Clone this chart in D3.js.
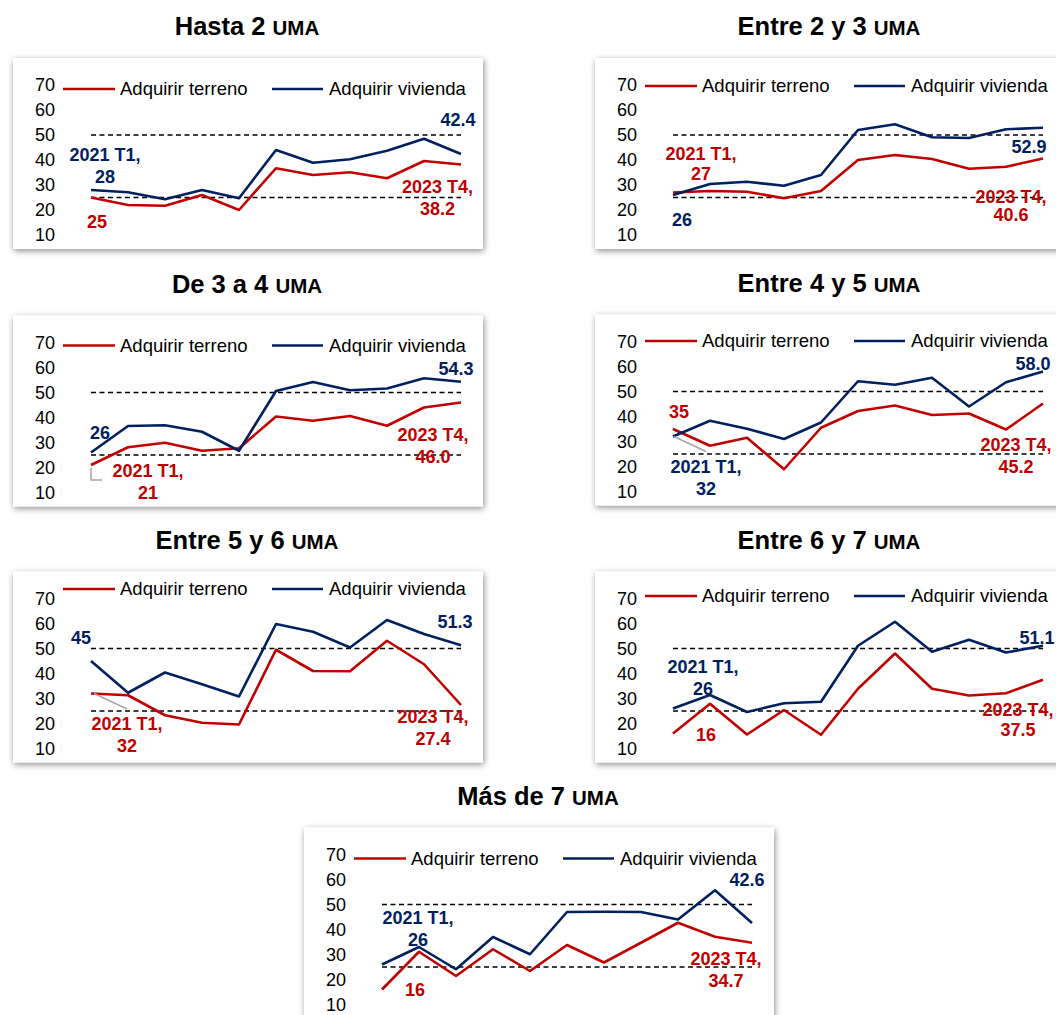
<!DOCTYPE html>
<html>
<head>
<meta charset="utf-8">
<script src="https://cdn.jsdelivr.net/npm/d3@7"></script>
<style>
  body { margin: 0; background: #fff; }
  svg { display: block; font-family: "Liberation Sans", Arial, Helvetica, sans-serif; }
</style>
</head>
<body>
<svg id="chart" width="1056" height="1015"></svg>
<script>
// Quarterly survey periods shown on each panel
const quarters = ["2021 T1", "2021 T2", "2021 T3", "2021 T4", "2022 T1", "2022 T2",
                  "2022 T3", "2022 T4", "2023 T2", "2023 T3", "2023 T4"];
const seriesNames = ["Adquirir terreno", "Adquirir vivienda"];
const yTicks = [10, 20, 30, 40, 50, 60, 70];
const refLevels = [25, 50];
const incomeLevels = ["Hasta 2", "Entre 2 y 3", "De 3 a 4", "Entre 4 y 5", "Entre 5 y 6", "Entre 6 y 7", "Más de 7"];

// Percent of households per income level (UMA)
const terrenoHasta2   = [25, 22, 21.7, 26, 20, 36.7, 34, 35.1, 32.7, 39.6, 38.2];
const viviendaHasta2  = [28, 27.1, 24.3, 28, 24.7, 44, 38.9, 40.3, 43.7, 48.5, 42.4];
const terreno2a3      = [27, 27.6, 27.3, 24.7, 27.6, 40, 42, 40.4, 36.5, 37.3, 40.6];
const vivienda2a3     = [26, 30.4, 31.3, 29.7, 34, 52, 54.3, 49.1, 48.8, 52.3, 52.9];
const terreno3a4      = [21, 28.1, 29.9, 26.7, 27.7, 40.4, 38.7, 40.6, 36.7, 44, 46.0];
const vivienda3a4     = [26, 36.6, 36.9, 34.3, 26.7, 50.6, 54.2, 50.9, 51.6, 55.7, 54.3];
const terreno4a5      = [35, 28.3, 31.5, 18.9, 35.5, 42.2, 44.4, 40.6, 41.2, 34.8, 45.2];
const vivienda4a5     = [32, 38.3, 35.1, 31, 37.6, 54.1, 52.7, 55.5, 44, 53.7, 58.0];
const terreno5a6      = [32, 31.3, 23.3, 20.3, 19.6, 49.5, 41, 40.9, 53.1, 43.7, 27.4];
const vivienda5a6     = [45, 32.3, 40.4, 35.7, 30.8, 59.8, 56.7, 50.4, 61.4, 55.8, 51.3];
const terreno6a7      = [16, 27.9, 15.6, 25.4, 15.5, 33.9, 48, 33.9, 31.2, 32.1, 37.5];
const vivienda6a7     = [26, 31.4, 24.6, 28.1, 28.7, 51.1, 60.7, 48.7, 53.5, 48.4, 51.1];
const terrenoMas7     = [16, 31.1, 21.4, 32.1, 23.4, 33.8, 26.8, 34.7, 42.7, 37.1, 34.7];
const viviendaMas7    = [26, 33, 24.1, 37, 30.1, 47, 47.1, 47, 44, 55.7, 42.6];

const panels = [
  { title: incomeLevels[0], series: [terrenoHasta2, viviendaHasta2] },
  { title: incomeLevels[1], series: [terreno2a3, vivienda2a3] },
  { title: incomeLevels[2], series: [terreno3a4, vivienda3a4] },
  { title: incomeLevels[3], series: [terreno4a5, vivienda4a5] },
  { title: incomeLevels[4], series: [terreno5a6, vivienda5a6] },
  { title: incomeLevels[5], series: [terreno6a7, vivienda6a7] },
  { title: incomeLevels[6], series: [terrenoMas7, viviendaMas7] }
];

// Panel placement and label offsets (pixels relative to the labelled point)
const layout = [
  { left: 13, top: 58, legendY: 31, notes: [
    { s: 1, i: 0, dx: 14, dy: -35, period: true },
    { s: 0, i: 0, dx: 6, dy: 24 },
    { s: 1, i: 10, dx: -3, dy: -34 },
    { s: 0, i: 10, dx: -23.5, dy: 22, period: true } ] },
  { left: 595, top: 58, legendY: 28, notes: [
    { s: 0, i: 0, dx: 28, dy: -39, period: true, gap: 20 },
    { s: 1, i: 0, dx: 9, dy: 25 },
    { s: 1, i: 10, dx: -14, dy: 19 },
    { s: 0, i: 10, dx: -32, dy: 38, period: true, gap: 18.5 } ] },
  { left: 13, top: 315.5, legendY: 30, notes: [
    { s: 1, i: 0, dx: 9, dy: -20 },
    { s: 0, i: 0, dx: 57, dy: 6, period: true, leader: [[0, 3], [0, 15], [11, 15]] },
    { s: 1, i: 10, dx: -5, dy: -13 },
    { s: 0, i: 10, dx: -28, dy: 32.5, period: true } ] },
  { left: 595, top: 314.5, legendY: 26.5, notes: [
    { s: 0, i: 0, dx: 6, dy: -17 },
    { s: 1, i: 0, dx: 33, dy: 30, period: true, leader: [[1, 0], [33, 15]] },
    { s: 1, i: 10, dx: -10, dy: -7.5 },
    { s: 0, i: 10, dx: -27, dy: 41, period: true } ] },
  { left: 13, top: 571.5, legendY: 17.5, notes: [
    { s: 1, i: 0, dx: -10, dy: -23 },
    { s: 0, i: 0, dx: 36, dy: 30.5, period: true, leader: [[3, 0], [36, 15.5]] },
    { s: 1, i: 10, dx: -6, dy: -23.5 },
    { s: 0, i: 10, dx: -28, dy: 12, period: true } ] },
  { left: 595, top: 571.5, legendY: 24.5, notes: [
    { s: 1, i: 0, dx: 30, dy: -42, period: true },
    { s: 0, i: 0, dx: 33, dy: 1.5 },
    { s: 1, i: 10, dx: -6, dy: -8.5 },
    { s: 0, i: 10, dx: -25, dy: 29.5, period: true, gap: 20 } ] },
  { left: 304, top: 827.5, legendY: 31, notes: [
    { s: 1, i: 0, dx: 36, dy: -47, period: true },
    { s: 0, i: 0, dx: 33, dy: 0.5 },
    { s: 1, i: 10, dx: -5, dy: -43 },
    { s: 0, i: 10, dx: -26, dy: 15.5, period: true } ] }
];

const colors = ["#C00000", "#002060"];
const BOX_W = 470, BOX_H = 191, PLOT_TOP = 27, X_START = 78, X_END = 448;
const fmtFirst = d3.format("d"), fmtLast = d3.format(".1f");

const svg = d3.select("#chart");
svg.append("rect").attr("width", 1056).attr("height", 1015).attr("fill", "#fff");

const filter = svg.append("defs").append("filter").attr("id", "shadow")
  .attr("x", "-5%").attr("y", "-8%").attr("width", "112%").attr("height", "120%");
filter.append("feDropShadow").attr("dx", 1).attr("dy", 2).attr("stdDeviation", 3)
  .attr("flood-color", "#000").attr("flood-opacity", 0.45);

const x = d3.scalePoint().domain(quarters).range([X_START, X_END]);
const y = d3.scaleLinear().domain([10, 70]).range([PLOT_TOP + 150, PLOT_TOP]);

panels.forEach((p, k) => {
  const L = layout[k];
  const g = svg.append("g").attr("transform", `translate(${L.left},${L.top})`);

  // Title
  const t = g.append("text").attr("x", 234).attr("y", -23)
    .attr("text-anchor", "middle").attr("font-weight", "bold").attr("fill", "#000");
  t.append("tspan").attr("font-size", 25.5).text(p.title + " ");
  t.append("tspan").attr("font-size", 20.5).text("UMA");

  // Card
  g.append("rect").attr("width", BOX_W).attr("height", BOX_H)
    .attr("fill", "#fff").attr("filter", "url(#shadow)");

  // Y axis labels only
  const ax = g.append("g").attr("transform", "translate(42,0)")
    .call(d3.axisLeft(y).tickValues(yTicks).tickSize(0).tickPadding(0).tickFormat(d3.format("d")));
  ax.select(".domain").remove();
  ax.attr("font-size", 18).attr("font-family", null);
  ax.selectAll("text").attr("fill", "#000");

  // Reference levels
  g.selectAll("line.ref").data(refLevels).join("line").attr("class", "ref")
    .attr("x1", x(quarters[0])).attr("x2", x(quarters[quarters.length - 1]))
    .attr("y1", d => y(d)).attr("y2", d => y(d))
    .attr("stroke", "#000").attr("stroke-width", 1.5).attr("stroke-dasharray", "5,3.5");

  // Series lines
  const line = d3.line().x((d, i) => x(quarters[i])).y(d => y(d));
  p.series.forEach((vals, s) => {
    g.append("path").datum(vals).attr("d", line).attr("fill", "none")
      .attr("stroke", colors[s]).attr("stroke-width", 2.6).attr("stroke-linejoin", "round");
  });

  // Legend
  const leg = g.append("g").attr("transform", `translate(0,${L.legendY})`);
  [[50, 102, 107], [259, 310, 316]].forEach((pos, s) => {
    leg.append("line").attr("x1", pos[0]).attr("x2", pos[1])
      .attr("stroke", colors[s]).attr("stroke-width", 2.6);
    leg.append("text").attr("x", pos[2]).attr("dy", "0.35em")
      .attr("font-size", 18.5).attr("fill", "#000").text(seriesNames[s]);
  });

  // Data labels for first and last period
  L.notes.forEach(n => {
    const v = p.series[n.s][n.i];
    const px = x(quarters[n.i]), py = y(v);
    if (n.leader) {
      g.append("path")
        .attr("d", d3.line()(n.leader.map(([a, b]) => [px + a, py + b])))
        .attr("fill", "none").attr("stroke", "#A6A6A6").attr("stroke-width", 1.5);
    }
    const txt = n.i === 0 ? fmtFirst(v) : fmtLast(v);
    const lines = n.period ? [quarters[n.i] + ",", txt] : [txt];
    const gap = n.gap || 22;
    lines.forEach((s, j) => {
      g.append("text").attr("x", px + n.dx).attr("y", py + n.dy + j * gap)
        .attr("dy", "0.35em").attr("text-anchor", "middle")
        .attr("font-size", 18).attr("font-weight", "bold")
        .attr("fill", colors[n.s]).text(s);
    });
  });
});
</script>
</body>
</html>
